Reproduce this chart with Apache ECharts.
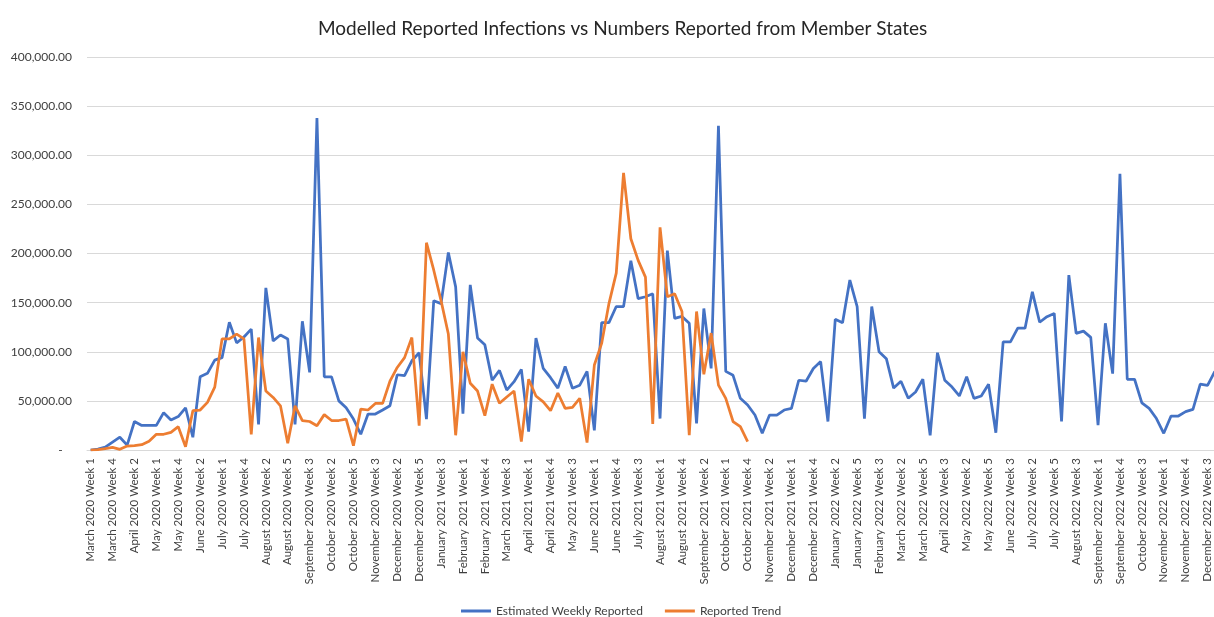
<!DOCTYPE html>
<html>
<head>
<meta charset="utf-8">
<title>Modelled Reported Infections vs Numbers Reported from Member States</title>
<script src="https://cdn.jsdelivr.net/npm/echarts@6/dist/echarts.min.js"></script>
<style>
  html, body {
    margin: 0;
    padding: 0;
    background: #fff;
  }
  #chart {
    width: 1214px;
    height: 617px;
  }
</style>
</head>
<body>
<div id="chart"></div>
<script>
// month name + how many weeks it has in the source sheet
var months = [
  ["March 2020", 5], ["April 2020", 4], ["May 2020", 5], ["June 2020", 4],
  ["July 2020", 5], ["August 2020", 5], ["September 2020", 4], ["October 2020", 5],
  ["November 2020", 4], ["December 2020", 5],
  ["January 2021", 5], ["February 2021", 4], ["March 2021", 5], ["April 2021", 4],
  ["May 2021", 5], ["June 2021", 4], ["July 2021", 5], ["August 2021", 5],
  ["September 2021", 4], ["October 2021", 5], ["November 2021", 4], ["December 2021", 5],
  ["January 2022", 5], ["February 2022", 4], ["March 2022", 5], ["April 2022", 4],
  ["May 2022", 5], ["June 2022", 4], ["July 2022", 5], ["August 2022", 5],
  ["September 2022", 4], ["October 2022", 5], ["November 2022", 4], ["December 2022", 4]
];

var categories = [];
months.forEach(function (m) {
  for (var w = 1; w <= m[1]; w++) {
    categories.push(m[0] + " Week " + w);
  }
});

var estimatedWeekly = [
  0, 1000, 3000, 8000, 13000, 5000, 29000, 25000, 25000, 25000,
  38000, 30500, 34000, 43000, 13000, 74500, 78000, 91500, 94000, 130000,
  109000, 115000, 123000, 26000, 165000, 111000, 117000, 113000, 26000, 131000,
  79000, 338000, 74500, 74500, 50000, 43000, 31500, 16000, 36600, 36600,
  40700, 45000, 76600, 75600, 90800, 99000, 31500, 152000, 149000, 201000,
  166000, 37000, 168000, 114000, 107000, 71000, 81000, 61000, 69500, 82000,
  18700, 114000, 83000, 73600, 63000, 85000, 62800, 66000, 80000, 20000,
  129600, 129600, 146000, 146000, 192700, 154000, 156000, 159000, 32000, 203000,
  134000, 136000, 129000, 27000, 144000, 83000, 330000, 80000, 76000, 52600,
  45800, 35600, 17000, 35600, 35600, 40700, 42400, 71000, 70000, 83000,
  90000, 29000, 133000, 129600, 173000, 146000, 32000, 146000, 100000, 93000,
  63000, 70000, 52600, 59000, 72000, 15000, 99000, 71000, 64000, 55000,
  74600, 52600, 55000, 67000, 17600, 110000, 110000, 124000, 124000, 161000,
  130000, 135700, 139000, 29000, 178000, 118700, 121000, 114600, 25400, 129000,
  77700, 281000, 72000, 72000, 48000, 42400, 32000, 17000, 34600, 34600,
  39000, 41400, 67000, 65800, 80000
];

var reportedTrend = [
  0, 300, 1400, 2700, 700, 4000, 4400, 5400, 8800, 16000,
  16000, 18000, 23700, 3400, 40000, 40700, 48500, 64000, 113000, 113000,
  118000, 113000, 16000, 114500, 60000, 53500, 45000, 6800, 45000, 30000,
  29000, 24700, 36000, 30000, 30000, 31500, 4400, 41700, 40700, 47400,
  47400, 70000, 84000, 94000, 114500, 24700, 211000, 183000, 152000, 118000,
  15000, 100000, 68000, 60000, 35000, 67000, 47500, 54000, 60000, 8500,
  72000, 55000, 49000, 40000, 58000, 42400, 43400, 52600, 7500, 86500,
  108500, 149000, 180000, 282000, 215000, 193000, 176000, 26500, 226600, 156000,
  159000, 141000, 15000, 141000, 77000, 119000, 66000, 52600, 29000, 23700,
  8500
];

var yMin = 0, yMax = 400000, yStep = 50000;

var font = "Lato, 'Open Sans', sans-serif";

var myChart = echarts.init(document.getElementById("chart")),
  option = {
    animation: false,
    textStyle: { fontFamily: font },
    title: {
      text: "Modelled Reported Infections vs Numbers Reported from Member States",
      left: 313,
      top: 14,
      textStyle: {
        fontFamily: font,
        fontSize: 19,
        fontWeight: "normal",
        color: "#262626",
      },
    },
    legend: {
      left: 456,
      top: 600,
      icon: "rect",
      itemWidth: 30,
      itemHeight: 3,
      itemGap: 22,
      textStyle: { fontFamily: font, fontSize: 12, color: "#404040" },
      data: ["Estimated Weekly Reported", "Reported Trend"],
    },
    grid: {
      left: 87,
      top: 57,
      width: 1131.5,
      height: 393,
      outerBoundsMode: "none",
    },
    xAxis: {
      type: "category",
      boundaryGap: true,
      data: categories,
      axisTick: { show: false },
      axisLine: { lineStyle: { color: "#d9d9d9" } },
      axisLabel: {
        interval: 2,
        rotate: 90,
        margin: 8,
        fontFamily: font,
        fontSize: 11.5,
        color: "#404040",
      },
    },
    yAxis: {
      type: "value",
      min: yMin,
      max: yMax,
      interval: yStep,
      axisLine: { show: false },
      axisTick: { show: false },
      splitLine: { lineStyle: { color: "#d9d9d9" } },
      axisLabel: {
        margin: 15,
        fontFamily: font,
        fontSize: 12,
        color: "#404040",
        formatter: function (v) {
          if (v === 0) return "-   ";
          return v.toLocaleString("en-US", { minimumFractionDigits: 2, maximumFractionDigits: 2 });
        },
      },
    },
    series: [
      {
        name: "Estimated Weekly Reported",
        type: "line",
        data: estimatedWeekly,
        showSymbol: false,
        lineStyle: { width: 2.75, color: "#4472C4" },
        itemStyle: { color: "#4472C4" },
        z: 2,
      },
      {
        name: "Reported Trend",
        type: "line",
        data: reportedTrend,
        showSymbol: false,
        lineStyle: { width: 2.75, color: "#ED7D31" },
        itemStyle: { color: "#ED7D31" },
        z: 3,
      },
    ],
  };
myChart.setOption(option);
</script>
</body>
</html>
